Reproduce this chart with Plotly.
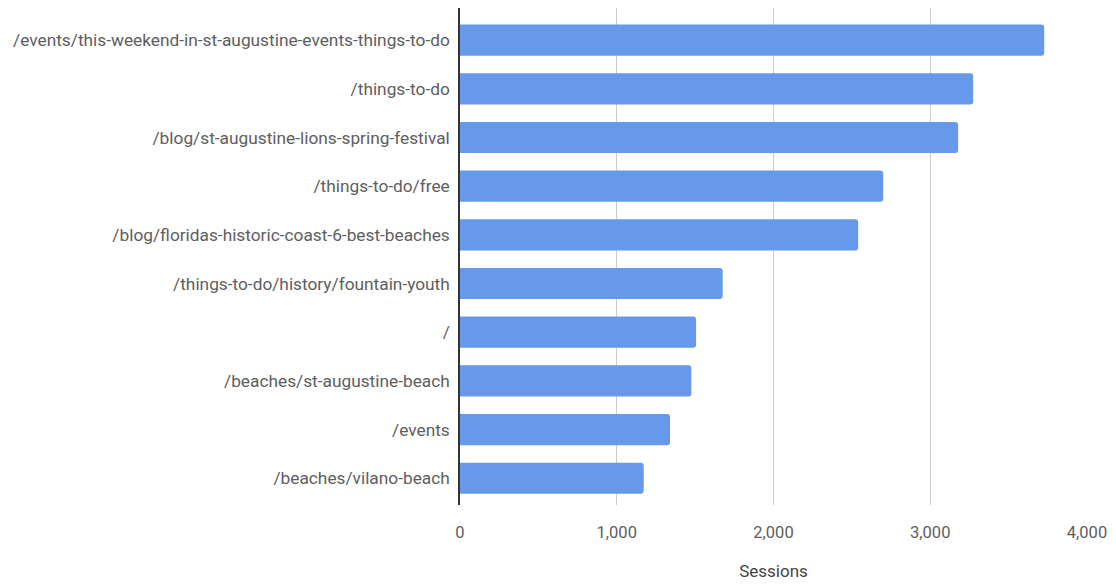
import plotly.graph_objects as go

pages = [
    "/events/this-weekend-in-st-augustine-events-things-to-do",
    "/things-to-do",
    "/blog/st-augustine-lions-spring-festival",
    "/things-to-do/free",
    "/blog/floridas-historic-coast-6-best-beaches",
    "/things-to-do/history/fountain-youth",
    "/",
    "/beaches/st-augustine-beach",
    "/events",
    "/beaches/vilano-beach",
]
sessions = [3727, 3274, 3178, 2700, 2540, 1676, 1506, 1476, 1340, 1172]
x_ticks = [0, 1000, 2000, 3000, 4000]
x_tick_labels = ["0", "1,000", "2,000", "3,000", "4,000"]

fig = go.Figure(go.Bar(
    y=pages, x=sessions, orientation="h",
    marker=dict(color="#6699ea", cornerradius=3, line=dict(width=0)),
))

fig.update_layout(
    width=1116, height=585,
    margin=dict(l=460, r=29, t=8, b=80),
    paper_bgcolor="white", plot_bgcolor="white",
    font=dict(family="Roboto", size=17.3, color="#5e5e5e"),
    bargap=0.36,
    showlegend=False,
)
fig.update_xaxes(
    range=[0, 4000], tickvals=x_ticks, ticktext=x_tick_labels,
    showgrid=True, gridcolor="#cccccc", gridwidth=1,
    zeroline=False, showline=False,
    ticks="", ticklabelstandoff=15,
    tickfont=dict(size=16.5),
    title=dict(text="Sessions", standoff=24, font=dict(size=17, color="#444444")),
)
fig.update_yaxes(
    type="category", categoryorder="array", categoryarray=pages,
    range=[9.55, -0.66],
    showline=True, linecolor="#333333", linewidth=1.5,
    showgrid=False, ticks="", ticklabelstandoff=5,
)

fig.write_html("out.html")
